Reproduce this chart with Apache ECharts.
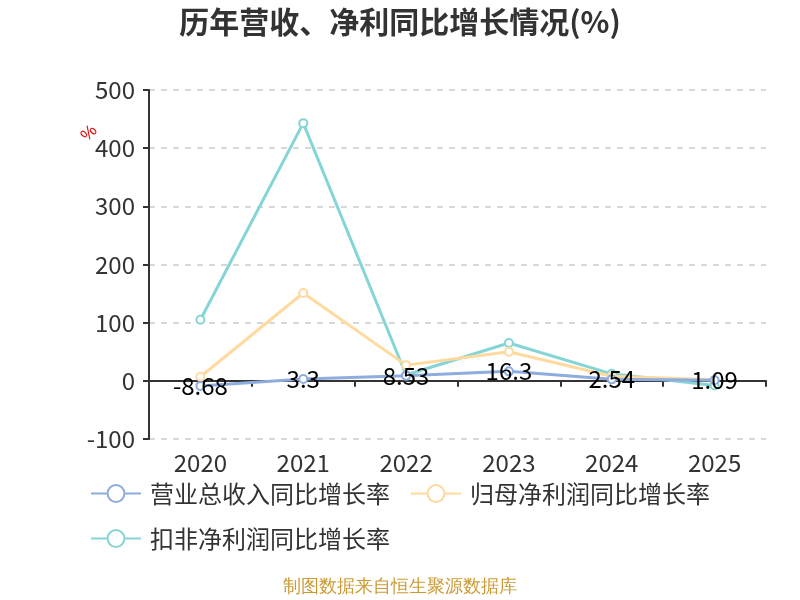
<!DOCTYPE html>
<html>
<head>
<meta charset="utf-8">
<script src="https://cdn.jsdelivr.net/npm/echarts@6/dist/echarts.min.js"></script>
<style>
  html, body { margin: 0; padding: 0; background: #fff; }
  #chart { width: 800px; height: 600px; }
</style>
</head>
<body>
<div id="chart"></div>
<script>
// 年份
const years = ['2020', '2021', '2022', '2023', '2024', '2025']
// 营业总收入同比增长率
const revenueGrowth = [-8.68, 3.3, 8.53, 16.3, 2.54, 1.09]
// 归母净利润同比增长率
const netProfitGrowth = [7, 151, 27, 50, 8, 2]
// 扣非净利润同比增长率
const deductedProfitGrowth = [105, 443, 10, 65, 12, -8]

const chart = echarts.init(document.getElementById('chart'))

function lineSeries(name, data, color, showLabel) {
  return {
    name,
    type: 'line',
    data,
    symbol: 'circle',
    symbolSize: 8,
    itemStyle: { color: '#fff', borderColor: color, borderWidth: 2 },
    lineStyle: { color, width: 3 },
    label: {
      show: showLabel,
      position: 'inside',
      color: '#000',
      fontSize: 24,
      fontFamily: 'Noto Sans CJK SC'
    },
    z: showLabel ? 3 : 2
  }
}

chart.setOption({
  animation: false,
  textStyle: { fontFamily: 'Noto Sans CJK SC' },
  title: {
    text: '历年营收、净利同比增长情况(%)',
    left: 'center',
    top: 2,
    textStyle: { fontSize: 30, fontWeight: 'bold', color: '#333' }
  },
  color: ['#8EACDE', '#FFDA9E', '#86D5D6'],
  legend: {
    left: 85,
    top: 476,
    width: 680,
    itemGap: 20,
    itemWidth: 50,
    itemHeight: 21,
    textStyle: { fontSize: 24, color: '#333', lineHeight: 25, padding: [0, 0, 0, 4] },
    data: ['营业总收入同比增长率', '归母净利润同比增长率', '扣非净利润同比增长率']
  },
  grid: { left: 149, right: 34, top: 90, bottom: 161 },
  xAxis: {
    type: 'category',
    data: years,
    axisLine: { lineStyle: { color: '#333', width: 2 } },
    axisTick: { show: true, length: 6, lineStyle: { color: '#333', width: 2 } },
    axisLabel: { fontSize: 24, color: '#333', margin: 12 }
  },
  yAxis: {
    type: 'value',
    min: -100,
    max: 500,
    interval: 100,
    axisLine: { show: true, lineStyle: { color: '#333', width: 2 } },
    axisTick: { show: true, length: 6, lineStyle: { color: '#333', width: 2 } },
    axisLabel: { fontSize: 24, color: '#333', margin: 14 },
    splitLine: { lineStyle: { color: '#ccc', type: [6, 6], width: 1.5 } }
  },
  graphic: [
    {
      type: 'text',
      left: 78,
      top: 122,
      rotation: Math.PI / 4,
      style: { text: '%', fill: '#e00', fontSize: 17 }
    },
    {
      type: 'text',
      left: 'center',
      top: 578,
      style: { text: '制图数据来自恒生聚源数据库', fill: '#CC9A33', fontSize: 18 }
    }
  ],
  series: [
    lineSeries('扣非净利润同比增长率', deductedProfitGrowth, '#86D5D6', false),
    lineSeries('归母净利润同比增长率', netProfitGrowth, '#FFDA9E', false),
    lineSeries('营业总收入同比增长率', revenueGrowth, '#8EACDE', true)
  ]
})
</script>
</body>
</html>
